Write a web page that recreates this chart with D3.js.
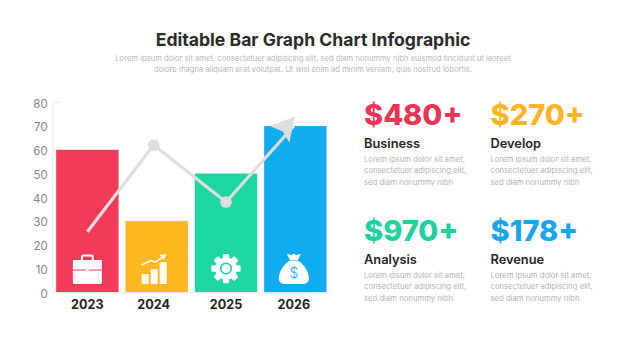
<!DOCTYPE html>
<html>
<head>
<meta charset="utf-8">
<script src="https://cdn.jsdelivr.net/npm/d3@7"></script>
<style>
  body { margin: 0; background: #fff; }
  svg { display: block; }
  text { font-family: Inter, "Open Sans", sans-serif; }
</style>
</head>
<body>
<svg id="chart"></svg>
<script>
const years = ["2023", "2024", "2025", "2026"];
const barValues = [60, 30, 50, 70];
const trendValues = [25.5, 62, 38, 74];
const barColors = ["#f33a59", "#ffb81f", "#1ed6a1", "#0facf0"];
const yTicks = [0, 10, 20, 30, 40, 50, 60, 70, 80];

const statValues = ["$480+", "$270+", "$970+", "$178+"];
const statNames = ["Business", "Develop", "Analysis", "Revenue"];
const statColors = ["#ec3455", "#fbb524", "#1ed19e", "#18a5ee"];
const statText = ["Lorem ipsum dolor sit amet,", "consectetuer adipiscing elit,", "sed diam nonummy nibh"];

const titleText = "Editable Bar Graph Chart Infographic";
const subtitleLines = [
  "Lorem ipsum dolor sit amet, consectetuer adipiscing elit, sed diam nonummy nibh euismod tincidunt ut laoreet",
  "dolore magna aliquam erat volutpat. Ut wisi enim ad minim veniam, quis nostrud lobortis."
];

const width = 626, height = 352;
const svg = d3.select("#chart").attr("width", width).attr("height", height);

// header
svg.append("text")
  .attr("x", 313).attr("y", 46)
  .attr("text-anchor", "middle")
  .style("font-size", "17.6px").style("font-weight", 700).style("fill", "#2b2b2b")
  .text(titleText);

svg.selectAll(".sub").data(subtitleLines).enter().append("text")
  .attr("class", "sub")
  .attr("x", 313).attr("y", (d, i) => 61 + i * 11)
  .attr("text-anchor", "middle")
  .style("font-size", "7.62px").style("fill", "#b8b8b8")
  .text(d => d);

// scales
const x = d3.scaleBand().domain(years).range([52.7, 330]).paddingInner(0.1).paddingOuter(0.05);
const y = d3.scaleLinear().domain([0, 80]).range([292.3, 102.3]);

// the labels, icons and trend points sit a little left of the bar centres
const nudge = { "2023": 0, "2024": -3, "2025": 0, "2026": -1.5 };
const midX = d => x(d) + x.bandwidth() / 2 + nudge[d];

// bars
svg.selectAll(".bar").data(years).enter().append("rect")
  .attr("class", "bar")
  .attr("x", d => x(d))
  .attr("y", (d, i) => y(barValues[i]))
  .attr("width", x.bandwidth())
  .attr("height", (d, i) => y(0) - y(barValues[i]))
  .style("fill", (d, i) => barColors[i]);

// axes
const yAxis = svg.append("g")
  .attr("transform", "translate(52.7,0)")
  .call(d3.axisLeft(y).tickValues(yTicks).tickSize(0).tickPadding(5));
yAxis.select(".domain").style("stroke", "#e8e8e8");
yAxis.selectAll("text").attr("dy", "0.42em").style("font-size", "11.5px").style("fill", "#868686");

svg.append("line")
  .attr("x1", 52.7).attr("x2", 60).attr("y1", y(80)).attr("y2", y(80))
  .style("stroke", "#e8e8e8");

const xAxis = svg.append("g")
  .attr("transform", `translate(0,${y(0)})`)
  .call(d3.axisBottom(x).tickSize(0).tickPadding(0));
xAxis.select(".domain").style("stroke", "#e8e8e8");
xAxis.selectAll(".tick")
  .attr("transform", d => `translate(${midX(d)},0)`);
xAxis.selectAll("text")
  .attr("y", 17).attr("dy", 0)
  .style("font-size", "12.6px").style("font-weight", 700).style("fill", "#232323");

// trend line with arrow head
const trendLine = d3.line().x((d, i) => midX(years[i])).y(d => y(d));
svg.append("path")
  .attr("d", trendLine(trendValues.map((d, i) => i === 3 ? d - 4 : d)))
  .style("fill", "none").style("stroke", "#dedede").style("stroke-width", 3.2);
svg.selectAll(".dot").data(trendValues.slice(1, 3)).enter().append("circle")
  .attr("class", "dot")
  .attr("cx", (d, i) => midX(years[i + 1]))
  .attr("cy", d => y(d))
  .attr("r", 5.8)
  .style("fill", "#dedede");
svg.append("path")
  .attr("transform", `translate(${midX(years[3])},${y(trendValues[3])})`)
  .attr("d", "M1,0 L-24,9.5 L-11,15 L-4.5,26 Z")
  .style("fill", "#dedede");

// icons, white on the bars
const icons = svg.selectAll(".icon").data(years).enter().append("g")
  .attr("class", "icon")
  .attr("transform", d => `translate(${midX(d)},${y(10)})`)
  .style("fill", "#fff");

// briefcase
const brief = d3.select(icons.nodes()[0]);
brief.append("path").attr("d", "M-14.5,-7.5 Q-14.5,-8.5 -13.5,-8.5 L13.5,-8.5 Q14.5,-8.5 14.5,-7.5 L14.5,14 Q14.5,15.5 13,15.5 L-13,15.5 Q-14.5,15.5 -14.5,14 Z");
brief.append("path").attr("d", "M-5.5,-8.5 L-5.5,-11 Q-5.5,-13 -3.5,-13 L3.5,-13 Q5.5,-13 5.5,-11 L5.5,-8.5")
  .style("fill", "none").style("stroke", "#fff").style("stroke-width", 2);
brief.append("path").attr("d", "M-14.5,1.5 L-1.5,1.5 M1.5,1.5 L14.5,1.5")
  .style("stroke", barColors[0]).style("stroke-width", 1);

// growth chart
const growth = d3.select(icons.nodes()[1]);
[[-12, 8.5, 10], [-3, 8.5, 15], [6, 8.5, 22]].forEach(b => {
  growth.append("rect").attr("x", b[0]).attr("y", 15.5 - b[2]).attr("width", b[1] - 1.5).attr("height", b[2]).attr("rx", 1);
});
growth.append("path").attr("d", "M-12.5,-3.5 L-3,-8 L2,-6.5 L9,-11.5")
  .style("fill", "none").style("stroke", "#fff").style("stroke-width", 1.4);
growth.append("path").attr("d", "M13,-14.5 L5.5,-13.5 L10,-8.5 Z");

// gear
const gear = d3.select(icons.nodes()[2]);
const teeth = [0, 1, 2, 3, 4, 5, 6, 7];
gear.append("circle").attr("r", 11);
gear.selectAll(".tooth").data(teeth).enter().append("rect")
  .attr("class", "tooth")
  .attr("x", -3.2).attr("y", -14.6).attr("width", 6.4).attr("height", 6).attr("rx", 1.2)
  .attr("transform", d => `rotate(${d * 45})`);
gear.append("circle").attr("r", 5.3).style("fill", "none")
  .style("stroke", barColors[2]).style("stroke-width", 1.6);

// money bag
const bag = d3.select(icons.nodes()[3]);
bag.append("path").attr("d", "M-4,-8 C-12,-3 -15,5 -15,10 C-15,14 -12,15.5 -9,15.5 L9,15.5 C12,15.5 15,14 15,10 C15,5 12,-3 4,-8 Z");
bag.append("path").attr("d", "M-7,-14.5 L-2.5,-13.5 L0,-14.8 L2.5,-13.5 L7,-14.5 L4,-8.5 L-4,-8.5 Z");
bag.append("text")
  .attr("y", 9).attr("text-anchor", "middle")
  .style("font-size", "14px").style("font-weight", 300).style("fill", barColors[3])
  .text("$");

// stat blocks on the right
const statX = d3.scaleOrdinal().domain([0, 1]).range([364, 490.5]);
const statY = d3.scaleOrdinal().domain([0, 1]).range([125, 241]);

const stats = svg.selectAll(".stat").data(statNames).enter().append("g")
  .attr("class", "stat")
  .attr("transform", (d, i) => `translate(${statX(i % 2)},${statY(Math.floor(i / 2))})`);

stats.append("text")
  .style("font-size", "29px").style("font-weight", 800)
  .style("fill", (d, i) => statColors[i])
  .text((d, i) => statValues[i]);

stats.append("text")
  .attr("y", 22.5)
  .style("font-size", "12.8px").style("font-weight", 600).style("fill", "#262626")
  .text(d => d);

stats.each(function() {
  d3.select(this).selectAll(".line").data(statText).enter().append("text")
    .attr("class", "line")
    .attr("y", (d, i) => 36.5 + i * 11.6)
    .style("font-size", "7.7px").style("fill", "#b4b4b4")
    .text(d => d);
});
</script>
</body>
</html>
